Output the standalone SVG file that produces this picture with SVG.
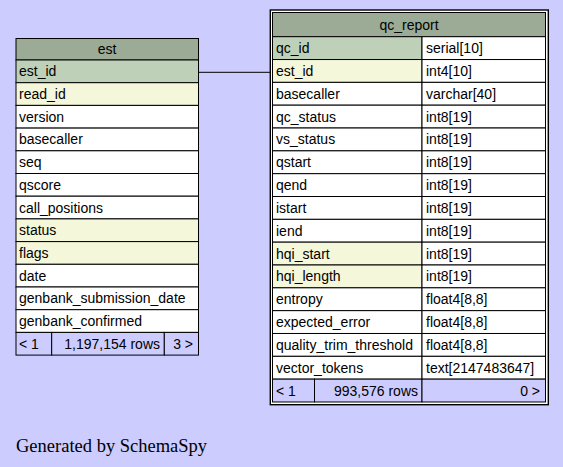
<svg xmlns="http://www.w3.org/2000/svg" width="563" height="467" viewBox="0 0 563 467">
<style>
.t{font-family:"Liberation Sans",Arial,Helvetica,sans-serif;font-size:14px;fill:#000}
.c{text-anchor:middle}
.r{text-anchor:end}
.h{fill:#9bab96;stroke:#000;stroke-width:1}
.pk{fill:#bed1b8;stroke:#000;stroke-width:1}
.ix{fill:#f4f7da;stroke:#000;stroke-width:1}
.w{fill:#ffffff;stroke:#000;stroke-width:1}
.f{fill:#ccccff;stroke:#000;stroke-width:1}
.g{font-family:"Liberation Serif","Times New Roman",serif;font-size:18.5px;fill:#000}
</style>
<rect x="0" y="0" width="563" height="467" fill="#ccccff"/>
<g id="connectors">
<line x1="198.5" y1="72.3" x2="272" y2="72.3" stroke="#000" stroke-width="1"/>
</g>
<g id="est">
<rect class="h" x="16" y="38.5" width="182.5" height="21.5"/>
<text class="t c" x="107" y="54">est</text>
<rect class="pk" x="16" y="60" width="182.5" height="22.7"/>
<text class="t" x="19" y="76.3">est_id</text>
<rect class="ix" x="16" y="82.7" width="182.5" height="22.7"/>
<text class="t" x="19" y="99">read_id</text>
<rect class="w" x="16" y="105.4" width="182.5" height="22.7"/>
<text class="t" x="19" y="121.7">version</text>
<rect class="w" x="16" y="128.1" width="182.5" height="22.7"/>
<text class="t" x="19" y="144.4">basecaller</text>
<rect class="w" x="16" y="150.8" width="182.5" height="22.7"/>
<text class="t" x="19" y="167.1">seq</text>
<rect class="w" x="16" y="173.5" width="182.5" height="22.7"/>
<text class="t" x="19" y="189.8">qscore</text>
<rect class="w" x="16" y="196.2" width="182.5" height="22.7"/>
<text class="t" x="19" y="212.5">call_positions</text>
<rect class="ix" x="16" y="218.9" width="182.5" height="22.7"/>
<text class="t" x="19" y="235.2">status</text>
<rect class="ix" x="16" y="241.6" width="182.5" height="22.7"/>
<text class="t" x="19" y="257.9">flags</text>
<rect class="w" x="16" y="264.3" width="182.5" height="22.7"/>
<text class="t" x="19" y="280.6">date</text>
<rect class="w" x="16" y="287" width="182.5" height="22.7"/>
<text class="t" x="19" y="303.3">genbank_submission_date</text>
<rect class="w" x="16" y="309.7" width="182.5" height="22.7"/>
<text class="t" x="19" y="326">genbank_confirmed</text>
<rect class="f" x="16" y="332.4" width="35.7" height="22.7"/>
<rect class="f" x="51.7" y="332.4" width="112.6" height="22.7"/>
<rect class="f" x="164.3" y="332.4" width="34.2" height="22.7"/>
<text class="t" x="19" y="348.7">&lt; 1</text>
<text class="t r" x="160" y="348.7">1,197,154 rows</text>
<text class="t r" x="193" y="348.7">3 &gt;</text>
</g>
<g id="qc_report">
<rect x="270.3" y="10" width="278" height="394.7" fill="#ffffff" stroke="#000" stroke-width="1.4"/>
<rect class="h" x="272.5" y="12.5" width="273" height="24.2"/>
<text class="t c" x="409" y="30">qc_report</text>
<rect class="pk" x="272.5" y="36.7" width="149.5" height="22.83"/><rect class="w" x="422" y="36.7" width="123.5" height="22.83"/>
<text class="t" x="276" y="53">qc_id</text><text class="t" x="426" y="53">serial[10]</text>
<rect class="ix" x="272.5" y="59.53" width="149.5" height="22.83"/><rect class="w" x="422" y="59.53" width="123.5" height="22.83"/>
<text class="t" x="276" y="75.8">est_id</text><text class="t" x="426" y="75.8">int4[10]</text>
<rect class="w" x="272.5" y="82.36" width="149.5" height="22.83"/><rect class="w" x="422" y="82.36" width="123.5" height="22.83"/>
<text class="t" x="276" y="98.7">basecaller</text><text class="t" x="426" y="98.7">varchar[40]</text>
<rect class="w" x="272.5" y="105.19" width="149.5" height="22.83"/><rect class="w" x="422" y="105.19" width="123.5" height="22.83"/>
<text class="t" x="276" y="121.5">qc_status</text><text class="t" x="426" y="121.5">int8[19]</text>
<rect class="w" x="272.5" y="128.02" width="149.5" height="22.83"/><rect class="w" x="422" y="128.02" width="123.5" height="22.83"/>
<text class="t" x="276" y="144.3">vs_status</text><text class="t" x="426" y="144.3">int8[19]</text>
<rect class="w" x="272.5" y="150.85" width="149.5" height="22.83"/><rect class="w" x="422" y="150.85" width="123.5" height="22.83"/>
<text class="t" x="276" y="167.2">qstart</text><text class="t" x="426" y="167.2">int8[19]</text>
<rect class="w" x="272.5" y="173.68" width="149.5" height="22.83"/><rect class="w" x="422" y="173.68" width="123.5" height="22.83"/>
<text class="t" x="276" y="190">qend</text><text class="t" x="426" y="190">int8[19]</text>
<rect class="w" x="272.5" y="196.51" width="149.5" height="22.83"/><rect class="w" x="422" y="196.51" width="123.5" height="22.83"/>
<text class="t" x="276" y="212.8">istart</text><text class="t" x="426" y="212.8">int8[19]</text>
<rect class="w" x="272.5" y="219.34" width="149.5" height="22.83"/><rect class="w" x="422" y="219.34" width="123.5" height="22.83"/>
<text class="t" x="276" y="235.7">iend</text><text class="t" x="426" y="235.7">int8[19]</text>
<rect class="ix" x="272.5" y="242.17" width="149.5" height="22.83"/><rect class="w" x="422" y="242.17" width="123.5" height="22.83"/>
<text class="t" x="276" y="258.5">hqi_start</text><text class="t" x="426" y="258.5">int8[19]</text>
<rect class="ix" x="272.5" y="265" width="149.5" height="22.83"/><rect class="w" x="422" y="265" width="123.5" height="22.83"/>
<text class="t" x="276" y="281.3">hqi_length</text><text class="t" x="426" y="281.3">int8[19]</text>
<rect class="w" x="272.5" y="287.83" width="149.5" height="22.83"/><rect class="w" x="422" y="287.83" width="123.5" height="22.83"/>
<text class="t" x="276" y="304.2">entropy</text><text class="t" x="426" y="304.2">float4[8,8]</text>
<rect class="w" x="272.5" y="310.66" width="149.5" height="22.83"/><rect class="w" x="422" y="310.66" width="123.5" height="22.83"/>
<text class="t" x="276" y="327">expected_error</text><text class="t" x="426" y="327">float4[8,8]</text>
<rect class="w" x="272.5" y="333.49" width="149.5" height="22.83"/><rect class="w" x="422" y="333.49" width="123.5" height="22.83"/>
<text class="t" x="276" y="349.8">quality_trim_threshold</text><text class="t" x="426" y="349.8">float4[8,8]</text>
<rect class="w" x="272.5" y="356.32" width="149.5" height="22.83"/><rect class="w" x="422" y="356.32" width="123.5" height="22.83"/>
<text class="t" x="276" y="372.7">vector_tokens</text><text class="t" x="426" y="372.7">text[2147483647]</text>
<rect class="f" x="272.5" y="379.15" width="42" height="22.83"/>
<rect class="f" x="314.5" y="379.15" width="107.5" height="22.83"/>
<rect class="f" x="422" y="379.15" width="123.5" height="22.83"/>
<text class="t" x="276" y="395.5">&lt; 1</text>
<text class="t r" x="418" y="395.5">993,576 rows</text>
<text class="t r" x="540" y="395.5">0 &gt;</text>
</g>
<text class="g" x="16" y="452">Generated by SchemaSpy</text>
</svg>
